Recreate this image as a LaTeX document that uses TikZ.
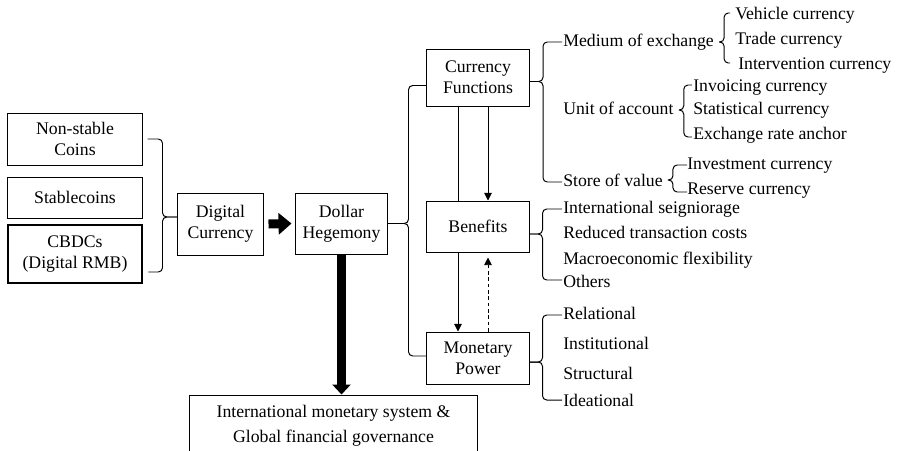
\documentclass[tikz,border=0pt]{standalone}
\usepackage{fontspec}
\setmainfont{Liberation Serif}
\usepackage{tikz}
\usetikzlibrary{arrows.meta,calc}

\begin{document}
\begin{tikzpicture}[x=0.025cm,y=-0.025cm,
  font=\fontsize{12.6}{15}\selectfont,
  box/.style={draw,line width=0.7pt,align=center,inner sep=0pt},
  lbl/.style={anchor=west,inner sep=0pt,text height=8.5pt,text depth=2.5pt},
  brace/.style={line width=0.7pt,rounded corners=3pt},
  arr/.style={line width=0.7pt,-{Triangle[length=5.5pt,width=5.5pt]}}]

\useasboundingbox (0,0) rectangle (897,450);

% Kinds of digital currency
\node[box,minimum width=3.35cm,minimum height=1.3cm] (ns) at (75,139) {Non-stable\\Coins};
\node[box,minimum width=3.35cm,minimum height=1.025cm] (sc) at (75,197.5) {Stablecoins};
\node[box,line width=1.8pt,minimum width=3.35cm,minimum height=1.45cm] (cbdc) at (75,254) {CBDCs\\(Digital RMB)};

% Main chain
\node[box,minimum width=2.125cm,minimum height=1.55cm] (dc) at (220.5,224) {Digital\\Currency};
\node[box,minimum width=2.275cm,minimum height=1.525cm] (dh) at (341.5,223.5) {Dollar\\Hegemony};
\node[box,minimum width=7.2cm,minimum height=1.525cm] (ims) at (333.5,425.5) {International monetary system \&\\[2.8pt]Global financial governance};

% Three aspects
\node[box,minimum width=2.575cm,minimum height=1.425cm] (cf) at (478,77.5) {Currency\\Functions};
\node[box,minimum width=2.55cm,minimum height=1.275cm] (bn) at (478,226.5) {Benefits};
\node[box,minimum width=2.55cm,minimum height=1.3cm] (mp) at (478,358) {Monetary\\Power};

% Currency functions
\node[lbl] (moe) at (563,42) {Medium of exchange};
\node[lbl] (vc) at (735,15) {Vehicle currency};
\node[lbl] (tc) at (735,40) {Trade currency};
\node[lbl] (ic) at (738,65) {Intervention currency};
\node[lbl] (uoa) at (563,110) {Unit of account};
\node[lbl] (invc) at (693,87) {Invoicing currency};
\node[lbl] (stc) at (693,110) {Statistical currency};
\node[lbl] (era) at (693,135) {Exchange rate anchor};
\node[lbl] (sov) at (563,182) {Store of value};
\node[lbl] (inv) at (687,165) {Investment currency};
\node[lbl] (res) at (687,190) {Reserve currency};

% Benefits
\node[lbl] (isg) at (563,209) {International seigniorage};
\node[lbl] (rtc) at (563,234) {Reduced transaction costs};
\node[lbl] (mef) at (563,260) {Macroeconomic flexibility};
\node[lbl] (oth) at (563,283) {Others};

% Monetary power
\node[lbl] (rel) at (563,315) {Relational};
\node[lbl] (ins) at (563,345) {Institutional};
\node[lbl] (str) at (563,375) {Structural};
\node[lbl] (ide) at (563,402) {Ideational};

% Braces
\draw[brace] ($(dc.west)+(0,-7)$) -- ++(-15,0) |- ($(ns.east)+(5,0)$);
\draw[brace] ($(dc.west)+(0,-7)$) -- ++(-15,0) |- ($(cbdc.east)+(5,18)$);
\draw[brace] (dh.east) -- ++(21,0) |- ($(cf.west)+(0,8)$);
\draw[brace] (dh.east) -- ++(21,0) |- ($(mp.west)+(0,-2)$);
\draw[brace] ($(cf.east)+(0,4)$) -- ++(13,0) |- ($(moe.west)+(-1,0)$);
\draw[brace] ($(cf.east)+(0,4)$) -- ++(13,0) |- ($(sov.west)+(-1,0)$);
\draw[brace] ($(moe.east)+(5,0)$) -- ++(5,0) |- ($(vc.west)+(-5,-2)$);
\draw[brace] ($(moe.east)+(5,0)$) -- ++(5,0) |- ($(ic.west)+(-8,-2)$);
\draw[brace] ($(uoa.east)+(5,0)$) -- ++(5,0) |- ($(invc.west)+(-1,-2)$);
\draw[brace] ($(uoa.east)+(5,0)$) -- ++(5,0) |- ($(era.west)+(-1,2)$);
\draw[brace] ($(sov.east)+(5,-2)$) -- ++(5,0) |- ($(inv.west)+(0,0)$);
\draw[brace] ($(sov.east)+(5,-2)$) -- ++(5,0) |- ($(res.west)+(0,2)$);
\draw[brace] ($(bn.east)+(0,7.5)$) -- ++(13,0) |- ($(isg.west)+(-1,0)$);
\draw[brace] ($(bn.east)+(0,7.5)$) -- ++(13,0) |- ($(oth.west)+(-1,-3)$);
\draw[brace] ($(mp.east)+(0,4)$) -- ++(13,0) |- ($(rel.west)+(-1,0)$);
\draw[brace] ($(mp.east)+(0,4)$) -- ++(13,0) |- ($(ide.west)+(-1,-2)$);

% Links between aspects
\draw[line width=0.7pt] ($(cf.south)+(-20,0)$) -- ($(bn.north)+(-20,0)$);
\draw[arr] ($(cf.south)+(10,0)$) -- ($(bn.north)+(10,0)$);
\draw[arr] ($(bn.south)+(-20,0)$) -- ($(mp.north)+(-20,0)$);
\draw[arr,dash pattern=on 2.5pt off 2pt] ($(mp.north)+(10,0)$) -- ($(bn.south)+(10,5)$);

% Thick arrows
\draw[line width=6.4pt,-{Triangle[length=9.2pt,width=15pt]}] ($(dc.east)+(5,0)$) -- ($(dh.west)+(-4,0)$);
\draw[line width=5.7pt,-{Triangle[length=7.1pt,width=12.8pt]}] (dh.south) -- (dh.south |- ims.north);

\end{tikzpicture}
\end{document}
